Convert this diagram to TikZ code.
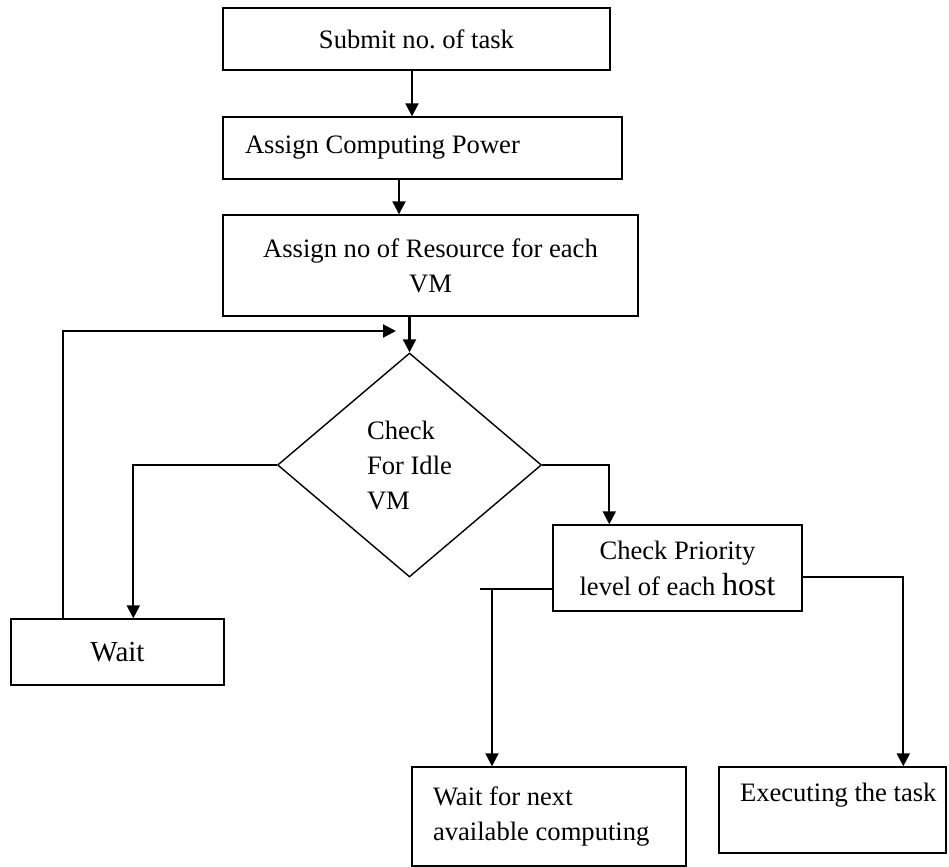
\documentclass[tikz,border=0pt]{standalone}
\usepackage{fontspec}
\setmainfont{Liberation Serif}
\usetikzlibrary{shapes.geometric,arrows.meta}
\newcommand{\normspace}{\spaceskip=0pt\xspaceskip=0pt\relax}

\begin{document}
\frenchspacing
\begin{tikzpicture}[x=0.5pt,y=-0.5pt,
                    font=\fontsize{13.3}{17.5}\selectfont,
                    box/.style={draw,line width=0.7pt,inner sep=0pt},
                    lbox/.style={box,align=left,execute at begin node=\normspace},
                    arr/.style={line width=1.05pt,-{Triangle[length=6.5pt,width=6.5pt]}},
                    line/.style={line width=1.05pt}]
\useasboundingbox (0,0) rectangle (949,867);
\node[box,minimum width=193.5pt,minimum height=31pt] (submit) at (416.5,39) {Submit no. of task};
\node[lbox,minimum width=199.5pt,minimum height=31pt,text width=177.5pt,
      inner xsep=11pt] (power) at (422.5,148) {Assign Computing Power};
\node[box,minimum width=207.5pt,minimum height=50.5pt,align=center]
  (resource) at (430.5,265.5) {Assign no of Resource for each\\VM};
\node[lbox,diamond,minimum width=132pt,minimum height=112pt]
  (idle) at (409.5,465) {Check\\For Idle\\VM};
\node[box,minimum width=106.5pt,minimum height=33pt,font=\fontsize{14.5}{17.5}\selectfont]
  (wait) at (117.5,652) {Wait};
\node[box,minimum width=124.5pt,minimum height=43pt,align=center,font=\fontsize{13.3}{18}\selectfont]
  (priority) at (677.5,568) {Check Priority\\level of each {\fontsize{16}{18}\selectfont host}};
\node[lbox,minimum width=137pt,minimum height=49.5pt,text width=116pt,inner xsep=10.5pt]
  (waitnext) at (549,816.5) {Wait for next\\available computing};
\node[lbox,minimum width=113.5pt,minimum height=43pt,text width=92.5pt,inner xsep=10.5pt]
  (exec) at (832.5,810) {\mbox{Executing the task}\\~};

\draw[arr] ([xshift=-2.25pt]submit.south) -- ([xshift=-2.25pt]submit.south |- power.north);
\draw[arr] ([xshift=-11.75pt]power.south) -- ([xshift=-11.75pt]power.south |- resource.north);
\draw[arr] (resource.south -| idle.north) -- (idle.north);
% back to the check
\coordinate (loop) at (396,331);
\draw[arr] ([xshift=26.5pt]wait.north west) |- (loop);
\draw[arr] (idle.west) -| ([xshift=61.5pt]wait.north west);
\draw[arr] (idle.east) -| ([xshift=28.5pt]priority.north west);
\draw[arr] ([yshift=-4.5pt]priority.east) -| ([xshift=92.5pt]exec.north west);
\coordinate (split) at (492,589);
\draw[line] (priority.west |- split) -- ++(-36pt,0);
\draw[arr] (split) -- (split |- waitnext.north);
\end{tikzpicture}
\end{document}
